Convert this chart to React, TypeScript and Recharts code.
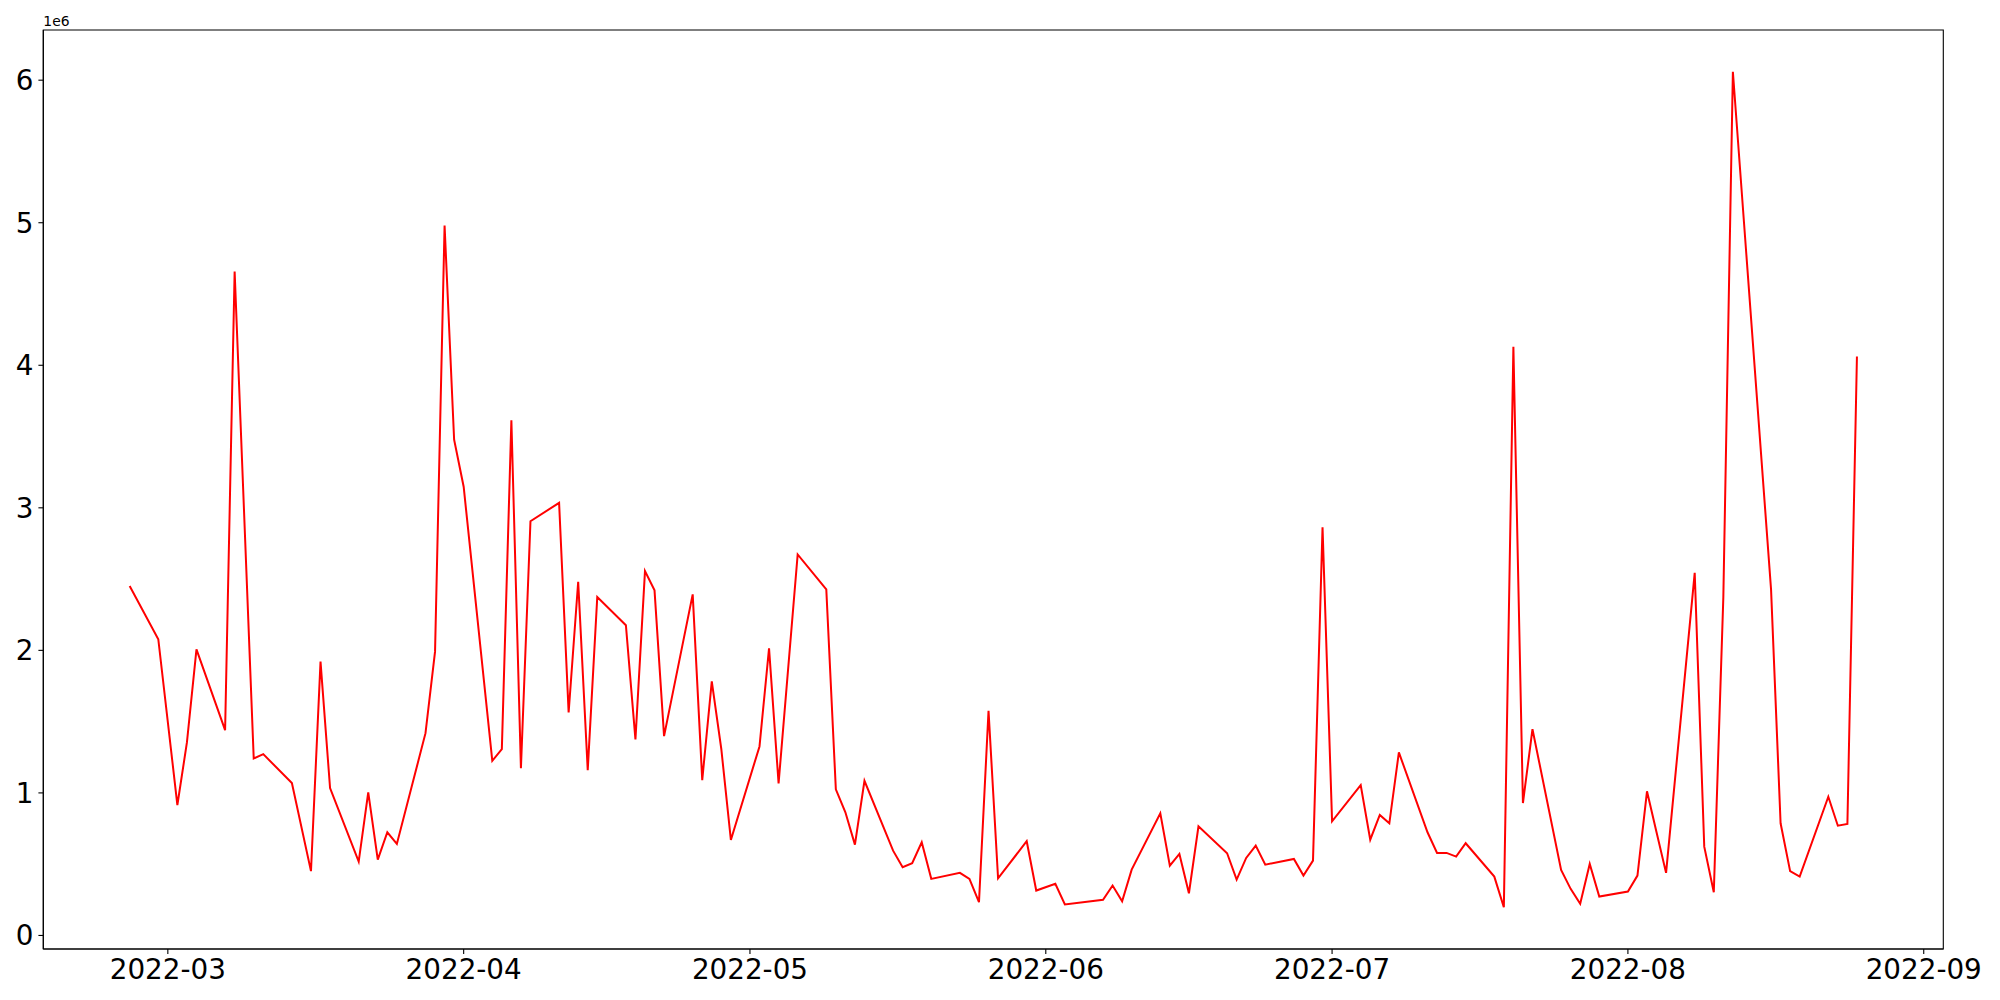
import React from 'react';
import { LineChart, Line, XAxis, YAxis, ReferenceArea } from 'recharts';

// daily totals (trading days only)
const DATES = [
  '2022-02-25', '2022-02-28', '2022-03-02', '2022-03-03', '2022-03-04', '2022-03-07', '2022-03-08',
  '2022-03-10', '2022-03-11', '2022-03-14', '2022-03-16', '2022-03-17', '2022-03-18', '2022-03-21',
  '2022-03-22', '2022-03-23', '2022-03-24', '2022-03-25', '2022-03-28', '2022-03-29', '2022-03-30',
  '2022-03-31', '2022-04-01', '2022-04-04', '2022-04-05', '2022-04-06', '2022-04-07', '2022-04-08',
  '2022-04-11', '2022-04-12', '2022-04-13', '2022-04-14', '2022-04-15', '2022-04-18', '2022-04-19',
  '2022-04-20', '2022-04-21', '2022-04-22', '2022-04-25', '2022-04-26', '2022-04-27', '2022-04-28',
  '2022-04-29', '2022-05-02', '2022-05-03', '2022-05-04', '2022-05-06', '2022-05-09', '2022-05-10',
  '2022-05-11', '2022-05-12', '2022-05-13', '2022-05-16', '2022-05-17', '2022-05-18', '2022-05-19',
  '2022-05-20', '2022-05-23', '2022-05-24', '2022-05-25', '2022-05-26', '2022-05-27', '2022-05-30',
  '2022-05-31', '2022-06-02', '2022-06-03', '2022-06-07', '2022-06-08', '2022-06-09', '2022-06-10',
  '2022-06-13', '2022-06-14', '2022-06-15', '2022-06-16', '2022-06-17', '2022-06-20', '2022-06-21',
  '2022-06-22', '2022-06-23', '2022-06-24', '2022-06-27', '2022-06-28', '2022-06-29', '2022-06-30',
  '2022-07-01', '2022-07-04', '2022-07-05', '2022-07-06', '2022-07-07', '2022-07-08', '2022-07-11',
  '2022-07-12', '2022-07-13', '2022-07-14', '2022-07-15', '2022-07-18', '2022-07-19', '2022-07-20',
  '2022-07-21', '2022-07-22', '2022-07-25', '2022-07-26', '2022-07-27', '2022-07-28', '2022-07-29',
  '2022-08-01', '2022-08-02', '2022-08-03', '2022-08-04', '2022-08-05', '2022-08-08', '2022-08-09',
  '2022-08-10', '2022-08-11', '2022-08-12', '2022-08-16', '2022-08-17', '2022-08-18', '2022-08-19',
  '2022-08-22', '2022-08-23', '2022-08-24', '2022-08-25',
];

const VALUES = [
  2452000, 2078000, 915000, 1354000, 2007000, 1440000, 4657000,
  1242000, 1272000, 1069000, 451000, 1921000, 1034000, 518000,
  1004000, 532000, 724000, 642000, 1419000, 1991000, 4980000,
  3478000, 3148000, 1225000, 1307000, 3614000, 1174000, 2906000,
  3035000, 1564000, 2481000, 1160000, 2374000, 2176000, 1375000,
  2556000, 2421000, 1398000, 2393000, 1090000, 1783000, 1307000,
  670000, 1326000, 2014000, 1067000, 2673000, 2428000, 1025000,
  864000, 637000, 1085000, 595000, 479000, 507000, 654000,
  397000, 439000, 397000, 233000, 1576000, 401000, 661000,
  315000, 362000, 217000, 250000, 350000, 240000, 462000,
  857000, 490000, 572000, 296000, 766000, 577000, 392000,
  544000, 630000, 497000, 537000, 420000, 525000, 2864000,
  801000, 1055000, 672000, 845000, 787000, 1284000, 724000,
  579000, 579000, 553000, 647000, 413000, 198000, 4129000,
  929000, 1447000, 460000, 327000, 222000, 502000, 273000,
  308000, 420000, 1011000, 724000, 439000, 2544000, 623000,
  303000, 2373000, 6059000, 2428000, 787000, 451000, 413000,
  973000, 770000, 782000, 4062000,
];

const MONTH_TICKS = ['2022-03', '2022-04', '2022-05', '2022-06', '2022-07', '2022-08', '2022-09'];
const Y_TICKS = [0, 1e6, 2e6, 3e6, 4e6, 5e6, 6e6];

const FONT = '"DejaVu Sans", sans-serif';

const toTime = (s: string) => {
  const [y, m, d] = s.split('-').map(Number);
  return Date.UTC(y, m - 1, d || 1);
};

const data = DATES.map((d, i) => ({ t: toTime(d), v: VALUES[i] }));

// matplotlib-style 5% margins
function padded(lo: number, hi: number): [number, number] {
  const r = hi - lo;
  return [lo - r * 0.05, hi + r * 0.05];
}

const xDomain = padded(data[0].t, data[data.length - 1].t);
const yDomain = padded(Math.min(...VALUES), Math.max(...VALUES));
const xTicks = MONTH_TICKS.map(toTime);

function fmtMonth(t: number) {
  const d = new Date(t);
  return `${d.getUTCFullYear()}-${String(d.getUTCMonth() + 1).padStart(2, '0')}`;
}

const tickStyle = { fill: '#000', fontSize: 27.8, fontFamily: FONT };
const axisLine = { stroke: '#000', strokeWidth: 1.1 };

export default function App() {
  return (
    <div style={{ position: 'absolute', left: 0, top: 0, width: 2000, height: 1000, background: '#fff' }}>
      <LineChart
        width={2000}
        height={1000}
        data={data}
        margin={{ top: 30, right: 56.7, bottom: 0, left: 0 }}
      >
        <XAxis
          dataKey="t"
          type="number"
          scale="linear"
          domain={xDomain}
          ticks={xTicks}
          tickFormatter={fmtMonth}
          height={51}
          tick={tickStyle}
          tickSize={4.9}
          tickMargin={4.9}
          tickLine={axisLine}
          axisLine={axisLine}
          allowDataOverflow
        />
        <YAxis
          type="number"
          domain={yDomain}
          ticks={Y_TICKS}
          tickFormatter={(v: number) => String(Math.round(v / 1e6))}
          width={43.3}
          tick={tickStyle}
          tickSize={4.9}
          tickMargin={4.9}
          tickLine={axisLine}
          axisLine={axisLine}
          allowDataOverflow
        />
        {/* axes frame (top and right spines) */}
        <ReferenceArea
          x1={xDomain[0]}
          x2={xDomain[1]}
          y1={yDomain[0]}
          y2={yDomain[1]}
          fill="none"
          fillOpacity={0}
          stroke="#000"
          strokeWidth={1.1}
          strokeOpacity={1}
          ifOverflow="visible"
        />
        <Line
          type="linear"
          dataKey="v"
          stroke="#ff0000"
          strokeWidth={2}
          dot={false}
          activeDot={false}
          isAnimationActive={false}
        />
      </LineChart>
      <div
        style={{
          position: 'absolute',
          left: 43.3,
          top: 14.7,
          fontFamily: FONT,
          fontSize: 13.9,
          lineHeight: 1,
          color: '#000',
        }}
      >
        1e6
      </div>
    </div>
  );
}
